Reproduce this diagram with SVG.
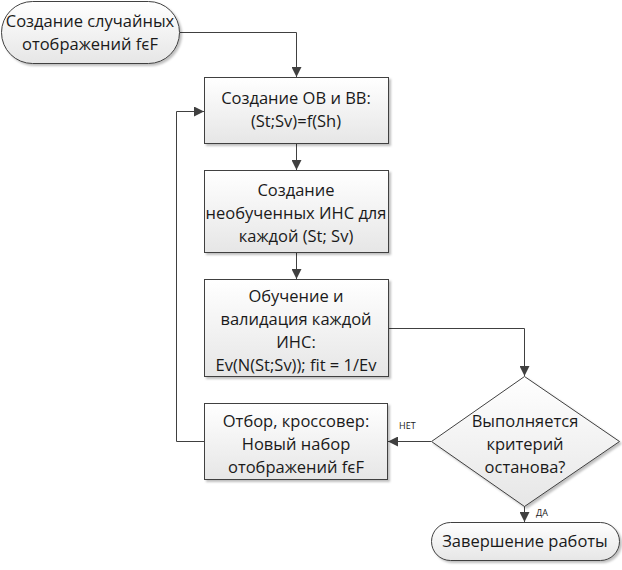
<svg xmlns="http://www.w3.org/2000/svg" width="622" height="570" viewBox="0 0 622 570">
<defs>
<linearGradient id="g" x1="0" y1="0" x2="0" y2="1">
<stop offset="0" stop-color="#ffffff"/>
<stop offset="1" stop-color="#e6e6e6"/>
</linearGradient>
<filter id="sh" x="-10%" y="-10%" width="130%" height="130%">
<feDropShadow dx="2" dy="2" stdDeviation="1.2" flood-color="#000" flood-opacity="0.25"/>
</filter>
<marker id="arr" viewBox="0 0 10 10" refX="10" refY="5" markerWidth="10" markerHeight="10" markerUnits="userSpaceOnUse" orient="auto">
<path d="M0,0 L10,5 L0,10 z" fill="#404040"/>
</marker>
</defs>
<style>
.shape{fill:url(#g);stroke:#404040;stroke-width:1;filter:url(#sh)}
.t{font-family:"Open Sans","Liberation Sans",Arial,sans-serif;font-size:16.5px;fill:#1a1a1a;text-anchor:middle}
.lbl{font-family:"Open Sans","Liberation Sans",Arial,sans-serif;font-size:9px;fill:#1a1a1a}
.c{fill:none;stroke:#404040;stroke-width:1;marker-end:url(#arr)}
</style>
<g id="connectors">
<path class="c" d="M180,32.5 H296.5 V77"/>
<path class="c" d="M296.5,144 V170"/>
<path class="c" d="M296.5,253 V279"/>
<path class="c" d="M388,328.5 H524.5 V376"/>
<path class="c" d="M431,441.5 H388"/>
<path class="c" d="M204,441.5 H176.5 V111.5 H204"/>
<path class="c" d="M524.5,506 V522"/>
<text class="lbl" x="399" y="429">НЕТ</text>
<text class="lbl" x="536" y="516">ДА</text>
</g>
<g id="start">
<rect class="shape" x="1.5" y="1.5" width="178" height="62" rx="31" ry="31"/>
<text class="t" x="90" y="27">Создание случайных</text>
<text class="t" x="90" y="50">отображений fєF</text>
</g>
<g id="box1">
<rect class="shape" x="204.5" y="77.5" width="184" height="66"/>
<text class="t" x="296" y="104">Создание ОВ и ВВ:</text>
<text class="t" x="296" y="127">(St;Sv)=f(Sh)</text>
</g>
<g id="box2">
<rect class="shape" x="204.5" y="170.5" width="184" height="82"/>
<text class="t" x="296" y="196">Создание</text>
<text class="t" x="296" y="219">необученных ИНС для</text>
<text class="t" x="296" y="242">каждой (St; Sv)</text>
</g>
<g id="box3">
<rect class="shape" x="204.5" y="279.5" width="184" height="97"/>
<text class="t" x="296" y="302">Обучение и</text>
<text class="t" x="296" y="325">валидация каждой</text>
<text class="t" x="296" y="348">ИНС:</text>
<text class="t" x="296" y="371">Ev(N(St;Sv)); fit = 1/Ev</text>
</g>
<g id="box4">
<rect class="shape" x="204.5" y="403.5" width="183" height="76"/>
<text class="t" x="296" y="427">Отбор, кроссовер:</text>
<text class="t" x="296" y="450">Новый набор</text>
<text class="t" x="296" y="473">отображений fєF</text>
</g>
<g id="decision">
<polygon class="shape" points="524.5,376.5 619.5,441.5 524.5,506.5 431.5,441.5"/>
<text class="t" x="525" y="427">Выполняется</text>
<text class="t" x="525" y="450">критерий</text>
<text class="t" x="525" y="473">останова?</text>
</g>
<g id="end">
<rect class="shape" x="431.5" y="522.5" width="188" height="38" rx="19" ry="19"/>
<text class="t" x="525" y="547">Завершение работы</text>
</g>
</svg>
